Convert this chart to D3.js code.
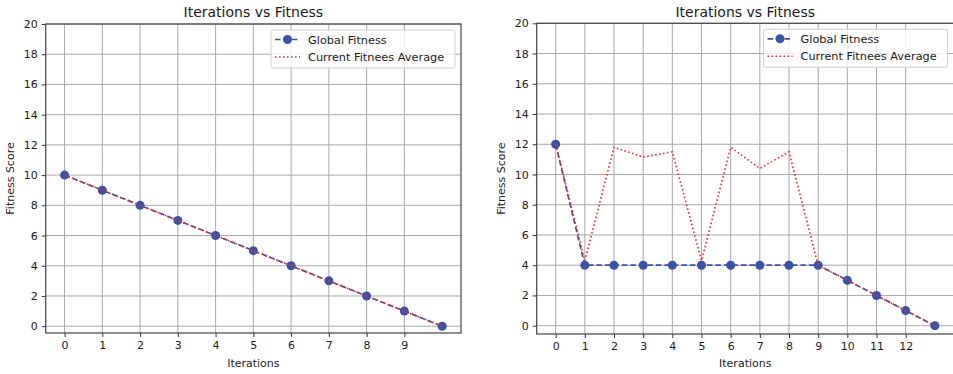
<!DOCTYPE html>
<html>
<head>
<meta charset="utf-8">
<script src="https://cdn.jsdelivr.net/npm/d3@7"></script>
<style>
  body { margin: 0; background: #fff; }
  text { font-family: "DejaVu Sans", sans-serif; fill: #1a1a1a; }
</style>
</head>
<body>
<svg width="953" height="374"></svg>
<script>
// left run
var globalA = [10, 9, 8, 7, 6, 5, 4, 3, 2, 1, 0];
var currentA = [10, 9, 8, 7, 6, 5, 4, 3, 2, 1, 0];
var xTicksA = [0, 1, 2, 3, 4, 5, 6, 7, 8, 9];

// right run
var globalB = [12, 4, 4, 4, 4, 4, 4, 4, 4, 4, 3, 2, 1, 0];
var currentB = [12, 4.3, 11.8, 11.15, 11.5, 4.3, 11.8, 10.4, 11.5, 4, 3, 2, 1, 0];
var xTicksB = [0, 1, 2, 3, 4, 5, 6, 7, 8, 9, 10, 11, 12];

var yTicks = [0, 2, 4, 6, 8, 10, 12, 14, 16, 18, 20];

var svg = d3.select("svg");

function drawPanel(opts) {
  var g = svg.append("g");
  var n = opts.global.length - 1;
  var pad = n * 0.05;

  var x = d3.scaleLinear()
    .domain([-pad, n + pad])
    .range([opts.left, opts.right]);

  var y = d3.scaleLinear()
    .domain([opts.ymin, 20])
    .range([opts.bottom, opts.top]);

  // grid
  g.append("g")
    .selectAll("line")
    .data(opts.xticks)
    .enter().append("line")
    .attr("x1", function(d) { return x(d); })
    .attr("x2", function(d) { return x(d); })
    .attr("y1", opts.top)
    .attr("y2", opts.bottom)
    .attr("stroke", "#a8a8a8")
    .attr("stroke-width", 1);

  g.append("g")
    .selectAll("line")
    .data(yTicks)
    .enter().append("line")
    .attr("x1", opts.left)
    .attr("x2", opts.right)
    .attr("y1", function(d) { return y(d); })
    .attr("y2", function(d) { return y(d); })
    .attr("stroke", "#a8a8a8")
    .attr("stroke-width", 1);

  // axes
  var xAxis = g.append("g")
    .attr("transform", "translate(0," + opts.bottom + ")")
    .call(d3.axisBottom(x).tickValues(opts.xticks).tickSize(4).tickPadding(4).tickFormat(d3.format("d")));

  var yAxis = g.append("g")
    .attr("transform", "translate(" + opts.left + ",0)")
    .call(d3.axisLeft(y).tickValues(yTicks).tickSize(4).tickPadding(4).tickFormat(d3.format("d")));

  [xAxis, yAxis].forEach(function(a) {
    a.select(".domain").remove();
    a.selectAll(".tick line").attr("stroke", "#333");
    a.selectAll(".tick text")
      .style("font-family", "DejaVu Sans, sans-serif")
      .style("font-size", "11px")
      .attr("fill", "#1a1a1a");
  });

  // frame
  g.append("rect")
    .attr("x", opts.left)
    .attr("y", opts.top)
    .attr("width", opts.right - opts.left)
    .attr("height", opts.bottom - opts.top)
    .attr("fill", "none")
    .attr("stroke", "#444")
    .attr("stroke-width", 1.2);

  var line = d3.line()
    .x(function(d, i) { return x(i); })
    .y(function(d) { return y(d); });

  // global fitness
  g.append("path")
    .datum(opts.global)
    .attr("d", line)
    .attr("fill", "none")
    .attr("stroke", "#3a53a8")
    .attr("stroke-width", 1.7)
    .attr("stroke-dasharray", "5.5,3");

  g.append("g")
    .selectAll("circle")
    .data(opts.global)
    .enter().append("circle")
    .attr("cx", function(d, i) { return x(i); })
    .attr("cy", function(d) { return y(d); })
    .attr("r", 4.5)
    .attr("fill", "#3a53a8");

  // current average
  g.append("path")
    .datum(opts.current)
    .attr("d", line)
    .attr("fill", "none")
    .attr("stroke", "#f52a2a")
    .attr("stroke-width", 1.6)
    .attr("stroke-dasharray", "1.6,2.4");

  // title and labels
  var cx = (opts.left + opts.right) / 2;
  g.append("text")
    .attr("x", cx)
    .attr("y", 17)
    .attr("text-anchor", "middle")
    .style("font-size", "14px")
    .text("Iterations vs Fitness");

  g.append("text")
    .attr("x", cx)
    .attr("y", 367)
    .attr("text-anchor", "middle")
    .style("font-size", "11px")
    .text("Iterations");

  g.append("text")
    .attr("transform", "translate(" + (opts.left - 32) + "," + ((opts.top + opts.bottom) / 2) + ") rotate(-90)")
    .attr("text-anchor", "middle")
    .style("font-size", "11px")
    .text("Fitness Score");

  // legend
  var lg = g.append("g").attr("transform", "translate(" + opts.legendX + "," + (opts.top + 6) + ")");
  lg.append("rect")
    .attr("width", 184)
    .attr("height", 38)
    .attr("rx", 2)
    .attr("fill", "rgba(255,255,255,0.8)")
    .attr("stroke", "#d0d0d0");

  lg.append("line")
    .attr("x1", 4).attr("x2", 29).attr("y1", 9.5).attr("y2", 9.5)
    .attr("stroke", "#3a53a8").attr("stroke-width", 1.7)
    .attr("stroke-dasharray", "5.5,3");
  lg.append("circle").attr("cx", 16.5).attr("cy", 9.5).attr("r", 4.5).attr("fill", "#3a53a8");
  lg.append("text").attr("x", 37).attr("y", 13.5).style("font-size", "11.3px").text("Global Fitness");

  lg.append("line")
    .attr("x1", 4).attr("x2", 29).attr("y1", 27).attr("y2", 27)
    .attr("stroke", "#f52a2a").attr("stroke-width", 1.6)
    .attr("stroke-dasharray", "1.6,2.4");
  lg.append("text").attr("x", 37).attr("y", 31).style("font-size", "11.3px").text("Current Fitnees Average");
}

drawPanel({
  global: globalA, current: currentA, xticks: xTicksA,
  left: 45.7, right: 461, top: 24, bottom: 333, ymin: -0.45, legendX: 271
});

drawPanel({
  global: globalB, current: currentB, xticks: xTicksB,
  left: 536.7, right: 953.8, top: 23.3, bottom: 334, ymin: -0.55, legendX: 763.5
});
</script>
</body>
</html>
